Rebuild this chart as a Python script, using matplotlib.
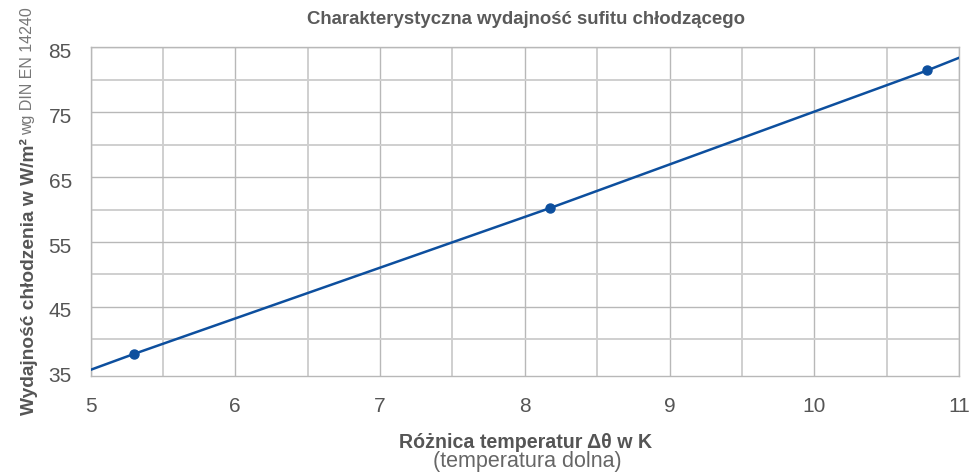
import matplotlib
matplotlib.use("Agg")
import matplotlib.pyplot as plt
from matplotlib.ticker import MultipleLocator
from matplotlib.transforms import ScaledTranslation

# Data
line_x = [5.0, 5.3, 8.17, 10.78, 11.0]
line_y = [35.3, 37.75, 60.2, 81.45, 83.4]
point_x = [5.3, 8.17, 10.78]
point_y = [37.75, 60.2, 81.45]
x_ticks = [5, 6, 7, 8, 9, 10, 11]
y_ticks = [35, 45, 55, 65, 75, 85]

title = "Charakterystyczna wydajność sufitu chłodzącego"
ylabel_main = "Wydajność chłodzenia w W/m²"
ylabel_sub = "wg DIN EN 14240"
xlabel_main = "Różnica temperatur Δθ w K"
xlabel_sub = "(temperatura dolna)"

plt.rcParams['font.family'] = ['Liberation Sans', 'DejaVu Sans']

W, H = 974, 472
fig = plt.figure(figsize=(W / 100, H / 100), dpi=100)
ax = fig.add_axes([90.5 / W, (H - 375.7) / H, (959.3 - 90.5) / W, (375.7 - 47.3) / H])

color = "#0d4f9e"
ax.plot(line_x, line_y, color=color, lw=1.8, zorder=3)
ax.plot(point_x, point_y, 'o', color=color, ms=6.5, zorder=4)

ax.set_xlim(5, 11)
ax.set_ylim(34.4, 85)
ax.set_xticks(x_ticks)
ax.set_yticks(y_ticks)
ax.xaxis.set_minor_locator(MultipleLocator(0.5))
ax.yaxis.set_minor_locator(MultipleLocator(5))
ax.grid(which='major', color='#b8b8b8', lw=1.0)
ax.grid(which='minor', color='#cfcfcf', lw=1.4)
ax.set_axisbelow(True)
for s in ax.spines.values():
    s.set_color('#b8b8b8')
    s.set_linewidth(1.0)
ax.tick_params(which='both', length=0, labelsize=15, labelcolor='#555555')
ax.tick_params(axis='x', pad=15.5)
ax.tick_params(axis='y', pad=13.5)
for lab in ax.get_yticklabels():
    lab.set_transform(lab.get_transform() + ScaledTranslation(0, -3 / 100, fig.dpi_scale_trans))
# the lowest labelled line coincides with the axis frame in the reference
ax.get_ygridlines()[0].set_visible(False)

fig.text(526 / W, 1 - 20 / H, title, ha='center', va='center', fontsize=13.4,
         fontweight='bold', color='#5a5a5a')

fig.text(526 / W, 1 - 442 / H, xlabel_main, ha='center', va='center', fontsize=14.1,
         fontweight='bold', color='#555555')
fig.text(527 / W, 1 - 462 / H, xlabel_sub, ha='center', va='center', fontsize=15.5,
         color='#666666')

t1 = fig.text(34 / W, 1 - 415 / H, ylabel_main, rotation=90, ha='left', va='baseline',
              fontsize=13.8, fontweight='bold', color='#555555', rotation_mode='anchor')
fig.canvas.draw()
bb = t1.get_window_extent(fig.canvas.get_renderer())
top_px = bb.y1
fig.text(32 / W, (top_px + 3) / H, ylabel_sub, rotation=90, ha='left', va='baseline',
         fontsize=11.5, color='#777777', rotation_mode='anchor')

fig.savefig("out.png", dpi=100)
